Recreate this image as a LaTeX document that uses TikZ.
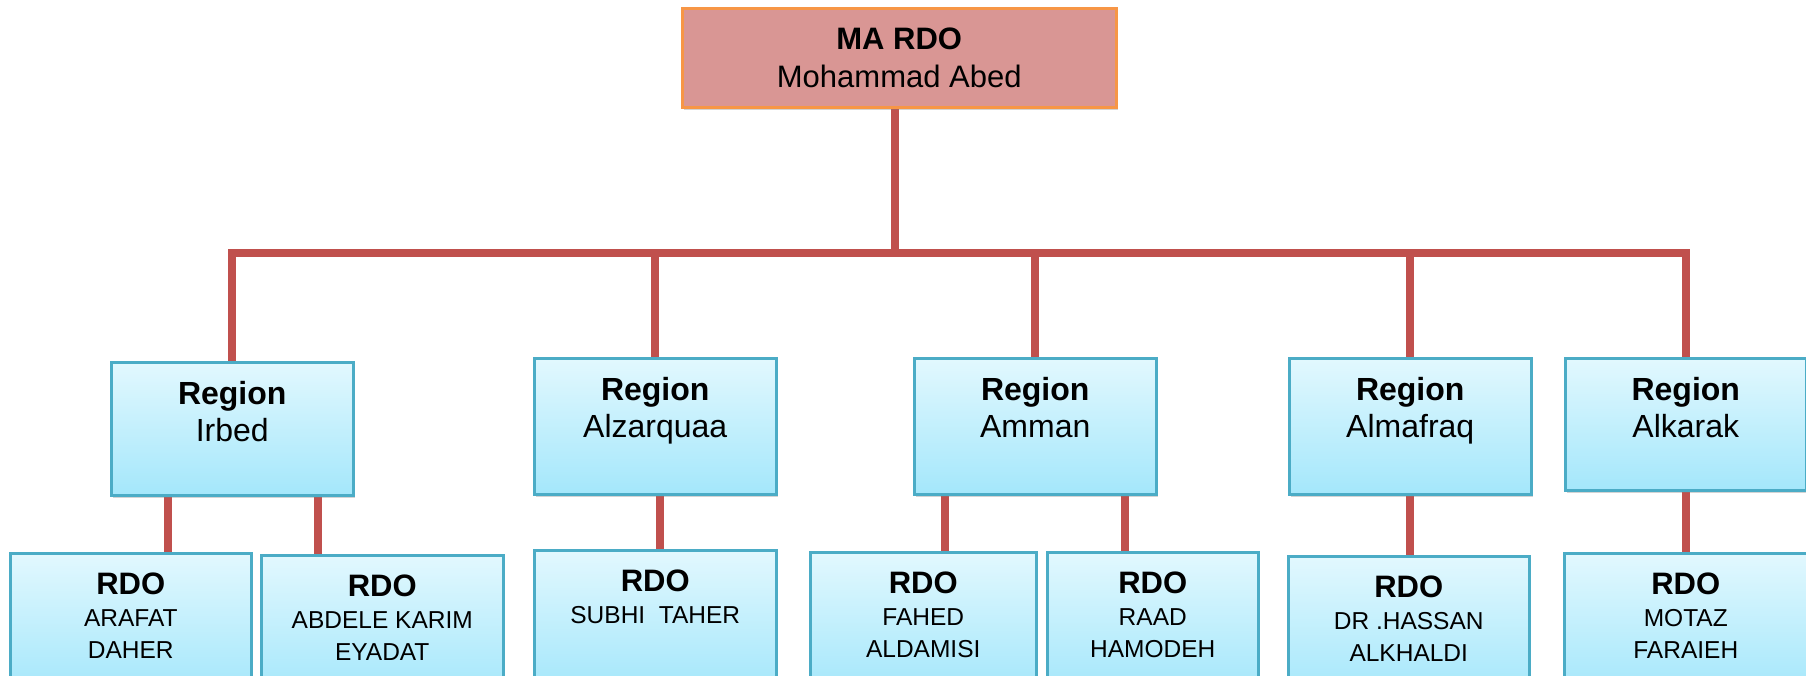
\documentclass[tikz,border=0pt]{standalone}
\usepackage{fontspec}
\setmainfont{Liberation Sans}
\usetikzlibrary{shadows,backgrounds,calc}
\definecolor{connred}{HTML}{C0504D}
\definecolor{topfill}{HTML}{D99694}
\definecolor{topborder}{HTML}{F79646}
\definecolor{bluetop}{HTML}{E2F8FE}
\definecolor{bluebot}{HTML}{A4E7FB}
\definecolor{blueborder}{HTML}{4BACC6}
\newcommand{\bxtext}[4]{\parbox[c][#2][t]{#1}{\centering\rule{0pt}{#3}#4}}
\tikzset{
  conn/.style={draw=connred, line width=8pt, line join=miter},
  topbox/.style={rectangle, draw=topborder, line width=2.5pt, fill=topfill, inner sep=0pt, anchor=north west,
    font=\fontsize{31}{38}\selectfont,
    drop shadow={opacity=0.35, shadow xshift=2pt, shadow yshift=-3pt}},
  regbox/.style={rectangle, draw=blueborder, line width=2.5pt, top color=bluetop, bottom color=bluebot, inner sep=0pt, anchor=north west,
    font=\fontsize{32}{37}\selectfont,
    drop shadow={opacity=0.35, shadow xshift=2pt, shadow yshift=-3pt}},
  rdobox/.style={regbox, font=\fontsize{24.5}{32}\selectfont},
}
\newcommand{\rdo}{{\fontsize{31}{32}\selectfont\bfseries RDO}}
\begin{document}
\begin{tikzpicture}[x=1pt,y=-1pt]
\useasboundingbox (0,0) rectangle (1806,675);
\clip (0,0) rectangle (1806,675);
% top
\node[topbox] (top) at (681,7) {\bxtext{434pt}{99pt}{41pt}{\textbf{MA RDO}\\Mohammad Abed}};
% regions
\node[regbox] (r1) at (110,361) {\bxtext{242pt}{133pt}{42pt}{\textbf{Region}\\Irbed}};
\node[regbox] (r2) at (533,357) {\bxtext{242pt}{136pt}{42pt}{\textbf{Region}\\Alzarquaa}};
\node[regbox] (r3) at (913,357) {\bxtext{242pt}{136pt}{42pt}{\textbf{Region}\\Amman}};
\node[regbox] (r4) at (1288,357) {\bxtext{242pt}{136pt}{42pt}{\textbf{Region}\\Almafraq}};
\node[regbox] (r5) at (1564,357) {\bxtext{241pt}{132pt}{42pt}{\textbf{Region}\\Alkarak}};
% RDOs
\node[rdobox] (b1) at (9,552) {\bxtext{241pt}{140pt}{41pt}{\rdo\\ARAFAT\\DAHER}};
\node[rdobox] (b2) at (260,554) {\bxtext{242pt}{140pt}{41pt}{\rdo\\ABDELE KARIM\\EYADAT}};
\node[rdobox] (b3) at (533,549) {\bxtext{242pt}{140pt}{41pt}{\rdo\\SUBHI\ \ TAHER}};
\node[rdobox] (b4) at (809,551) {\bxtext{226pt}{140pt}{41pt}{\rdo\\FAHED\\ALDAMISI}};
\node[rdobox] (b5) at (1046,551) {\bxtext{211pt}{140pt}{41pt}{\rdo\\RAAD\\HAMODEH}};
\node[rdobox] (b6) at (1287,555) {\bxtext{241pt}{140pt}{41pt}{\rdo\\DR .HASSAN\\ALKHALDI}};
\node[rdobox] (b7) at (1563,552) {\bxtext{243pt}{140pt}{41pt}{\rdo\\MOTAZ\\FARAIEH}};
\coordinate (bar) at (0,253);
\begin{scope}[on background layer]
\draw[conn] ([xshift=-4pt]top.south) -- ([xshift=-4pt]top.south |- bar);
\draw[conn] (r1.north) -- (r1.north |- bar) -- (r5.north |- bar) -- (r5.north);
\draw[conn] (r2.north) -- (r2.north |- bar);
\draw[conn] (r3.north) -- (r3.north |- bar);
\draw[conn] (r4.north) -- (r4.north |- bar);
\draw[conn] ([xshift=-64pt]r1.south) -- ([xshift=-64pt]r1.south |- b1.north);
\draw[conn] ([xshift=86pt]r1.south) -- ([xshift=86pt]r1.south |- b2.north);
\draw[conn] ([xshift=5pt]r2.south) -- ([xshift=5pt]r2.south |- b3.north);
\draw[conn] ([xshift=-90pt]r3.south) -- ([xshift=-90pt]r3.south |- b4.north);
\draw[conn] ([xshift=90pt]r3.south) -- ([xshift=90pt]r3.south |- b5.north);
\draw[conn] (r4.south) -- (r4.south |- b6.north);
\draw[conn] (r5.south) -- (r5.south |- b7.north);
\end{scope}
\end{tikzpicture}
\end{document}
